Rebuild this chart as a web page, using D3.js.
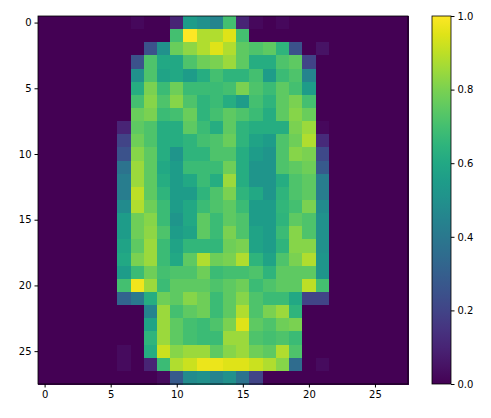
<!DOCTYPE html><html><head><meta charset="utf-8">
<script src="https://cdn.jsdelivr.net/npm/d3@7"></script>
<style>body{margin:0;background:#fff}text{font-family:"DejaVu Sans",sans-serif}</style></head><body>
<svg id="c" width="491" height="418"></svg>
<script>
// each row: [first column, pixel values ...]; other pixels are 0
const rowStarts = [5,6,5,7,7,7,7,7,6,6,6,6,6,6,6,6,6,6,6,6,6,6,6,6,6,6,6,9];
const rowValues = [
[0,0,0.02,0,0,0.1,0.55,0.5,0.45,0.7,0.1,0.02,0,0.02],
[0,0,0,0,0.7,1.0,0.88,0.88,0.95,0.7,0,0,0],
[0,0,0,0.25,0.5,0.77,0.83,0.88,0.95,0.88,0.75,0.72,0.75,0.65,0.25,0,0.05],
[0.25,0.72,0.6,0.6,0.72,0.78,0.8,0.85,0.75,0.62,0.62,0.72,0.75,0.2],
[0.5,0.72,0.58,0.6,0.55,0.62,0.7,0.65,0.65,0.7,0.55,0.68,0.72,0.45],
[0.62,0.8,0.68,0.78,0.68,0.68,0.68,0.7,0.8,0.72,0.68,0.75,0.7,0.55],
[0.7,0.82,0.72,0.82,0.72,0.65,0.68,0.62,0.55,0.7,0.65,0.75,0.8,0.7],
[0.77,0.8,0.68,0.7,0.77,0.65,0.7,0.75,0.72,0.68,0.62,0.75,0.82,0.77],
[0.1,0.75,0.72,0.62,0.62,0.75,0.68,0.62,0.75,0.65,0.62,0.62,0.62,0.8,0.85,0.02],
[0.2,0.78,0.72,0.62,0.62,0.65,0.7,0.72,0.77,0.65,0.58,0.55,0.72,0.78,0.88,0.12],
[0.25,0.82,0.75,0.62,0.52,0.65,0.65,0.72,0.72,0.62,0.55,0.52,0.72,0.82,0.8,0.22],
[0.38,0.85,0.75,0.6,0.55,0.68,0.68,0.68,0.78,0.62,0.52,0.52,0.72,0.75,0.78,0.28],
[0.42,0.85,0.75,0.62,0.55,0.6,0.68,0.62,0.85,0.62,0.52,0.52,0.62,0.72,0.75,0.42],
[0.42,0.9,0.75,0.65,0.55,0.55,0.65,0.72,0.8,0.65,0.6,0.52,0.65,0.72,0.75,0.42],
[0.48,0.88,0.78,0.68,0.55,0.6,0.68,0.72,0.75,0.68,0.55,0.55,0.66,0.7,0.8,0.48],
[0.55,0.78,0.82,0.68,0.52,0.6,0.75,0.68,0.75,0.72,0.55,0.55,0.65,0.75,0.72,0.5],
[0.55,0.78,0.83,0.72,0.55,0.58,0.75,0.68,0.8,0.72,0.58,0.55,0.68,0.82,0.72,0.5],
[0.58,0.75,0.85,0.68,0.58,0.66,0.66,0.66,0.78,0.8,0.58,0.55,0.65,0.82,0.82,0.5],
[0.6,0.8,0.85,0.68,0.6,0.75,0.88,0.78,0.8,0.88,0.65,0.58,0.72,0.8,0.88,0.52],
[0.55,0.68,0.78,0.7,0.72,0.72,0.78,0.68,0.7,0.7,0.72,0.65,0.75,0.75,0.75,0.52],
[0.7,0.98,0.85,0.68,0.75,0.75,0.75,0.72,0.75,0.78,0.68,0.72,0.75,0.75,0.9,0.7],
[0.32,0.4,0.62,0.78,0.75,0.82,0.78,0.68,0.75,0.82,0.72,0.68,0.68,0.6,0.2,0.2],
[0,0,0.45,0.85,0.7,0.75,0.78,0.68,0.75,0.88,0.72,0.8,0.85,0.65],
[0,0,0.58,0.85,0.75,0.7,0.68,0.72,0.8,0.95,0.75,0.72,0.78,0.8],
[0,0,0.65,0.85,0.75,0.7,0.68,0.68,0.85,0.85,0.72,0.7,0.72,0.68],
[0.03,0,0.62,0.92,0.82,0.85,0.85,0.75,0.82,0.85,0.78,0.75,0.88,0.72],
[0.03,0,0.1,0.68,0.88,0.92,0.97,0.97,0.95,0.95,0.92,0.88,0.82,0.35,0,0.03],
[0.03,0.28,0.48,0.5,0.45,0.5,0.38,0.2]
];
const axisTicks = [0,5,10,15,20,25];
const cbTicks = [0,0.2,0.4,0.6,0.8,1.0];

const cells=[];
for(let r=0;r<28;r++)for(let c=0;c<28;c++){
  const k=c-rowStarts[r];const v=(k>=0&&k<rowValues[r].length)?rowValues[r][k]:0;
  cells.push({r,c,v});}
const svg=d3.select("#c");
const L=38,T=16,W=370,H=368;
const x=d3.scaleLinear().domain([-0.5,27.5]).range([L,L+W]);
const y=d3.scaleLinear().domain([-0.5,27.5]).range([T,T+H]);
const col=v=>d3.interpolateViridis(v);
svg.append("g").selectAll("rect").data(cells).join("rect")
 .attr("x",d=>x(d.c-0.5)).attr("y",d=>y(d.r-0.5))
 .attr("width",x(1)-x(0)+0.5).attr("height",y(1)-y(0)+0.5)
 .attr("fill",d=>col(d.v)).attr("shape-rendering","crispEdges");
svg.append("rect").attr("x",L).attr("y",T).attr("width",W).attr("height",H).attr("fill","none").attr("stroke","#000").attr("stroke-width",0.8);
const ax=svg.append("g").attr("transform",`translate(0,${T+H})`).call(d3.axisBottom(x).tickValues(axisTicks).tickSize(3.5).tickPadding(3));
const ay=svg.append("g").attr("transform",`translate(${L},0)`).call(d3.axisLeft(y).tickValues(axisTicks).tickSize(3.5).tickPadding(3));
[ax,ay].forEach(a=>{a.select(".domain").remove();a.selectAll("text").attr("font-size",10).attr("fill","#000").style("font-family","DejaVu Sans");});
// colorbar
const cbX=432,cbW=19;
const cy=d3.scaleLinear().domain([0,1]).range([T+H,T]);
const grad=svg.append("defs").append("linearGradient").attr("id","g").attr("x1",0).attr("y1",1).attr("x2",0).attr("y2",0);
d3.range(0,1.01,0.05).forEach(t=>grad.append("stop").attr("offset",t).attr("stop-color",col(t)));
svg.append("rect").attr("x",cbX).attr("y",T).attr("width",cbW).attr("height",H).attr("fill","url(#g)").attr("stroke","#000").attr("stroke-width",0.8);
const ac=svg.append("g").attr("transform",`translate(${cbX+cbW},0)`).call(d3.axisRight(cy).tickValues(cbTicks).tickFormat(d3.format(".1f")).tickSize(3.5).tickPadding(3));
ac.select(".domain").remove();ac.selectAll("text").attr("font-size",10).attr("fill","#000").style("font-family","DejaVu Sans");
</script></body></html>
